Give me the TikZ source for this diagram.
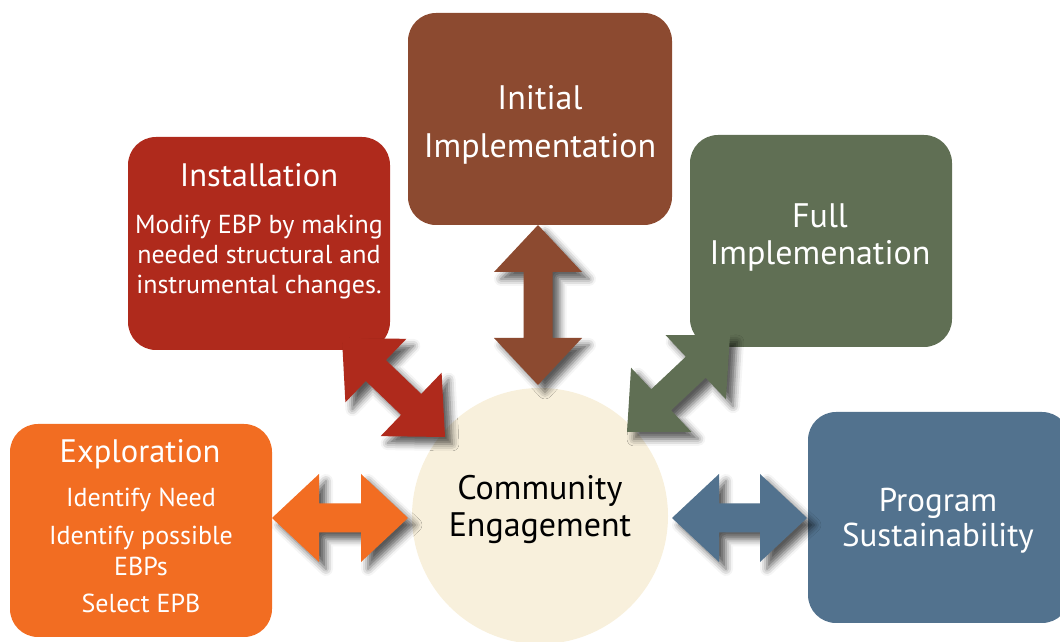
\documentclass[tikz,border=0pt]{standalone}
\usepackage{fontspec}
\setmainfont{PT Sans}
\usetikzlibrary{calc,shadows.blur}
\definecolor{cInst}{HTML}{AF2A1C}
\definecolor{cInit}{HTML}{8C4A30}
\definecolor{cFull}{HTML}{606F54}
\definecolor{cExpl}{HTML}{F26D22}
\definecolor{cSust}{HTML}{52728E}
\definecolor{cCirc}{HTML}{F8F0DC}
\newcommand\blockarrow[3]{%
  \fill[#1, arrowshadow] (#2)
    -- ($(#2)!47pt!(#3)!44pt!90:(#3)$)
    -- ($(#2)!47pt!(#3)!14.5pt!90:(#3)$)
    -- ($(#3)!47pt!(#2)!14.5pt!-90:(#2)$)
    -- ($(#3)!47pt!(#2)!44pt!-90:(#2)$)
    -- (#3)
    -- ($(#3)!47pt!(#2)!44pt!90:(#2)$)
    -- ($(#3)!47pt!(#2)!14.5pt!90:(#2)$)
    -- ($(#2)!47pt!(#3)!14.5pt!-90:(#3)$)
    -- ($(#2)!47pt!(#3)!44pt!-90:(#3)$)
    -- cycle;}
\tikzset{
  box/.style={rectangle, rounded corners=28pt, draw=none, inner sep=0pt,
    minimum width=262pt, minimum height=213pt},
  wtext/.style={text=white, align=center, inner sep=0pt},
  bigfont/.style={font=\fontsize{34}{37}\selectfont},
  initfont/.style={font=\fontsize{34}{48}\selectfont},
  sustfont/.style={font=\fontsize{33}{35}\selectfont},
  titlefont/.style={font=\fontsize{32.5}{35}\selectfont},
  subfont/.style={font=\fontsize{26}{30}\selectfont},
  explfont/.style={font=\fontsize{26}{31}\selectfont},
  arrowshadow/.style={blur shadow={shadow xshift=7pt, shadow yshift=-7pt,
    shadow blur radius=7pt, shadow opacity=65}},
}
\begin{document}
\begin{tikzpicture}[x=1pt,y=1pt]
\useasboundingbox (0,0) rectangle (1060,642);
\clip (0,0) rectangle (1060,642);
% circle
\node[circle, fill=cCirc, minimum size=256pt, inner sep=0pt] (ce) at (540,126) {};
% boxes
\node[box, fill=cInst] (inst) at (259,398.5) {};
\node[box, fill=cInit, minimum width=264pt, minimum height=212pt] (init) at (540,523) {};
\node[box, fill=cFull, minimum width=262pt, minimum height=212pt] (full) at (821,401) {};
\node[box, fill=cExpl] (expl) at (141,111.5) {};
\node[box, fill=cSust, minimum height=211pt] (sust) at (939,124.5) {};
% texts (base anchor = baseline of the last line)
\node[wtext, titlefont, anchor=base] (instT) at (259,455) {Installation};
\node[wtext, subfont, anchor=base] (instS) at (259,348) {Modify EBP by making\\needed structural and\\instrumental changes.};
\node[wtext, initfont, anchor=base] (initT) at (540,484) {Initial\\Implementation};
\node[wtext, bigfont, anchor=base] (fullT) at (820,377) {Full\\Implemenation};
\node[wtext, titlefont, anchor=base] (explT) at (140,179) {Exploration};
\node[wtext, explfont, anchor=base] (explS) at (141,29) {Identify Need\\[7pt]Identify possible\\EBPs\\[6pt]Select EPB};
\node[wtext, sustfont, anchor=base] (sustT) at (938,95) {Program\\Sustainability};
\node[align=center, inner sep=0pt, bigfont, anchor=base, text=black] (ceT) at (540,105) {Community\\Engagement};
% arrow tips
\coordinate (oA) at (272,124);
\coordinate (oB) at (408,124);
\coordinate (bA) at (672,124);
\coordinate (bB) at (807,124);
\coordinate (iA) at (538,417);
\coordinate (iB) at (538,257);
\coordinate (rA) at (342,304);
\coordinate (rB) at (445,205);
\coordinate (gA) at (730,307);
\coordinate (gB) at (627,210);
\blockarrow{cExpl}{oA}{oB}
\blockarrow{cSust}{bA}{bB}
\blockarrow{cInit}{iA}{iB}
\blockarrow{cInst}{rA}{rB}
\blockarrow{cFull}{gA}{gB}
\end{tikzpicture}
\end{document}
